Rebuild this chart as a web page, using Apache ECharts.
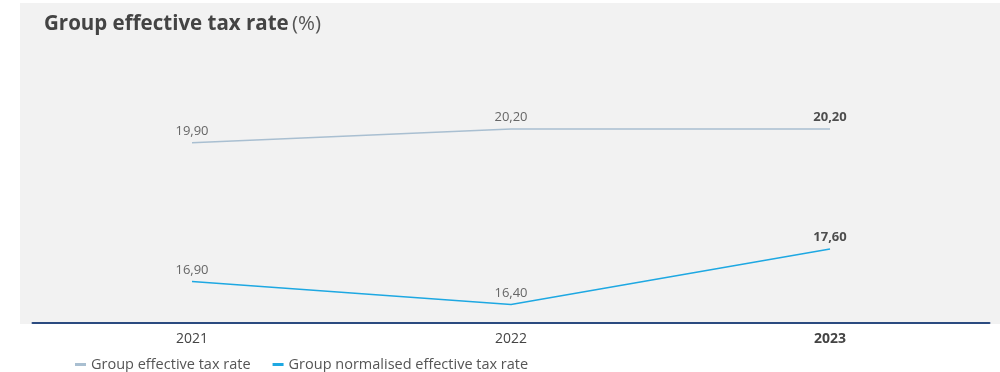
<!DOCTYPE html>
<html>
<head>
<meta charset="utf-8">
<script src="https://cdn.jsdelivr.net/npm/echarts@6/dist/echarts.min.js"></script>
<style>
  html, body { margin: 0; padding: 0; background: #fff; }
  #chart { width: 1000px; height: 372px; }
</style>
</head>
<body>
<div id="chart"></div>
<script>
const years = ['2021', '2022', '2023']
const effectiveRate = [19.9, 20.2, 20.2]
const normalisedRate = [16.9, 16.4, 17.6]
const seriesNames = ['Group effective tax rate', 'Group normalised effective tax rate']
const lastYear = '2023'

const fontFamily = '"Open Sans", "Noto Sans", sans-serif'
const fmt = v => v.toFixed(2).replace('.', ',')

// bold label on the latest year
const toData = values => values.map((v, i) => ({
    value: v,
    label: years[i] === lastYear ? { fontWeight: 'bold', color: '#4d4d4d' } : {}
}))

const valueLabel = {
    show: true,
    position: 'top',
    distance: 5,
    fontSize: 13,
    color: '#666',
    fontFamily,
    formatter: p => fmt(p.value)
}

const chart = echarts.init(document.getElementById('chart'))
chart.setOption({
    animation: false,
    textStyle: { fontFamily },
    graphic: [
        {
            type: 'rect',
            z: -10,
            silent: true,
            shape: { x: 20, y: 3, width: 980, height: 321 },
            style: { fill: '#f2f2f2' }
        },
        {
            type: 'text',
            left: 44,
            top: 14,
            style: {
                text: '{b|Group effective tax rate} {n|(%)}',
                rich: {
                    b: { fontSize: 20.5, fontWeight: 'bold', fill: '#444', fontFamily },
                    n: { fontSize: 20.5, fill: '#555', fontFamily }
                }
            }
        }
    ],
    grid: { left: 32.5, right: 10.5, top: 92, bottom: 49 },
    legend: {
        left: 70,
        top: 352,
        itemWidth: 11,
        itemHeight: 3,
        itemGap: 22,
        icon: 'rect',
        textStyle: { fontSize: 14.5, color: '#555', fontFamily },
        data: seriesNames
    },
    xAxis: {
        type: 'category',
        data: years,
        axisTick: { show: false },
        axisLine: { lineStyle: { color: '#2b4b80', width: 2 } },
        axisLabel: {
            fontSize: 14,
            color: '#444',
            margin: 9,
            formatter: v => (v === lastYear ? '{b|' + v + '}' : v),
            rich: { b: { fontWeight: 'bold', fontSize: 14, color: '#444' } }
        }
    },
    yAxis: {
        type: 'value',
        min: 16,
        max: 21,
        show: false,
        splitLine: { show: false }
    },
    series: [
        {
            name: seriesNames[0],
            type: 'line',
            data: toData(effectiveRate),
            symbol: 'circle',
            symbolSize: 0.1,
            color: '#a9bfd1',
            lineStyle: { width: 1.5, color: '#a9bfd1' },
            label: valueLabel
        },
        {
            name: seriesNames[1],
            type: 'line',
            data: toData(normalisedRate),
            symbol: 'circle',
            symbolSize: 0.1,
            color: '#1ea8e2',
            lineStyle: { width: 1.5, color: '#1ea8e2' },
            label: valueLabel
        }
    ]
})
</script>
</body>
</html>
